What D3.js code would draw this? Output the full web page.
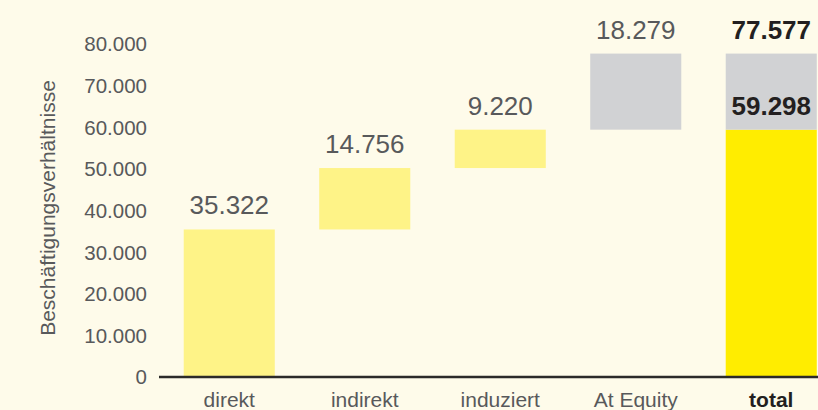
<!DOCTYPE html>
<html><head><meta charset="utf-8">
<script src="https://cdn.jsdelivr.net/npm/d3@7"></script>
<style>
html,body{margin:0;padding:0;background:#fefbea;}
svg{display:block;font-family:"Liberation Sans",Arial,Helvetica,sans-serif;}
</style></head><body>
<svg id="c" width="818" height="410"></svg>
<script>
const categories = ["direkt", "indirekt", "induziert", "At Equity", "total"];
const stepValues = [35322, 14756, 9220, 18279];
const subtotal = 59298;
const total = 77577;
const yTicks = [0, 10000, 20000, 30000, 40000, 50000, 60000, 70000, 80000];
const yTitle = "Beschäftigungsverhältnisse";

const loc = d3.formatLocale({decimal: ",", thousands: ".", grouping: [3], currency: ["", "€"]});
const fmt = loc.format(",d");

const svg = d3.select("#c");
const W = 818, H = 410;
svg.append("rect").attr("width", W).attr("height", H).attr("fill", "#fefbea");

const x = d3.scaleBand().domain(categories).range([161.5, 839]).paddingInner(0.328).paddingOuter(0.164);
const y = d3.scaleLinear().domain([0, 80000]).range([376.5, 43.5]);

// build waterfall segments
let cum = 0;
const segs = [];
stepValues.forEach((v, i) => {
  const color = i < 3 ? "#fef387" : "#d1d2d4";
  segs.push({cat: categories[i], y0: cum, y1: cum + v, color, label: fmt(v)});
  cum += v;
});
segs.push({cat: "total", y0: 0, y1: subtotal, color: "#ffed00", label: null});
segs.push({cat: "total", y0: subtotal, y1: total, color: "#d1d2d4", label: null});

svg.append("g").selectAll("rect").data(segs).join("rect")
  .attr("x", d => x(d.cat))
  .attr("width", x.bandwidth())
  .attr("y", d => y(d.y1))
  .attr("height", d => y(d.y0) - y(d.y1))
  .attr("fill", d => d.color);

// value labels
const labels = segs.filter(d => d.label).map(d => ({cat: d.cat, v: d.y1, text: d.label, bold: false}));
labels.push({cat: "total", v: subtotal, text: fmt(subtotal), bold: true});
labels.push({cat: "total", v: total, text: fmt(total), bold: true});

svg.append("g").selectAll("text").data(labels).join("text")
  .attr("x", d => x(d.cat) + x.bandwidth() / 2)
  .attr("y", d => y(d.v) - 15)
  .attr("text-anchor", "middle")
  .attr("font-size", 26)
  .attr("font-weight", d => d.bold ? "bold" : "normal")
  .attr("fill", d => d.bold ? "#231f20" : "#58595b")
  .text(d => d.text);

// y axis
const yAxis = svg.append("g").attr("transform", "translate(147,0)")
  .call(d3.axisLeft(y).tickValues(yTicks).tickSize(0).tickPadding(0).tickFormat(fmt));
yAxis.select(".domain").remove();
yAxis.selectAll("text").attr("font-size", 20.5).attr("fill", "#58595b")
  .attr("font-family", "Liberation Sans, Arial, sans-serif").attr("dy", "0.36em");

// y title
svg.append("text")
  .attr("transform", "translate(55,208) rotate(-90)")
  .attr("text-anchor", "middle")
  .attr("font-size", 21)
  .attr("fill", "#58595b")
  .text(yTitle);

// x axis
const xAxis = svg.append("g").attr("transform", "translate(0,377)")
  .call(d3.axisBottom(x).tickSize(0).tickPadding(0));
xAxis.select(".domain").remove();
xAxis.selectAll("text")
  .attr("font-size", 21)
  .attr("font-family", "Liberation Sans, Arial, sans-serif")
  .attr("y", 30).attr("dy", 0)
  .attr("font-weight", d => d === "total" ? "bold" : "normal")
  .attr("fill", d => d === "total" ? "#231f20" : "#58595b");

svg.append("line")
  .attr("x1", 159).attr("x2", W)
  .attr("y1", y(0) + 0.5).attr("y2", y(0) + 0.5)
  .attr("stroke", "#2b2a29").attr("stroke-width", 2.5);
</script>
</body></html>
